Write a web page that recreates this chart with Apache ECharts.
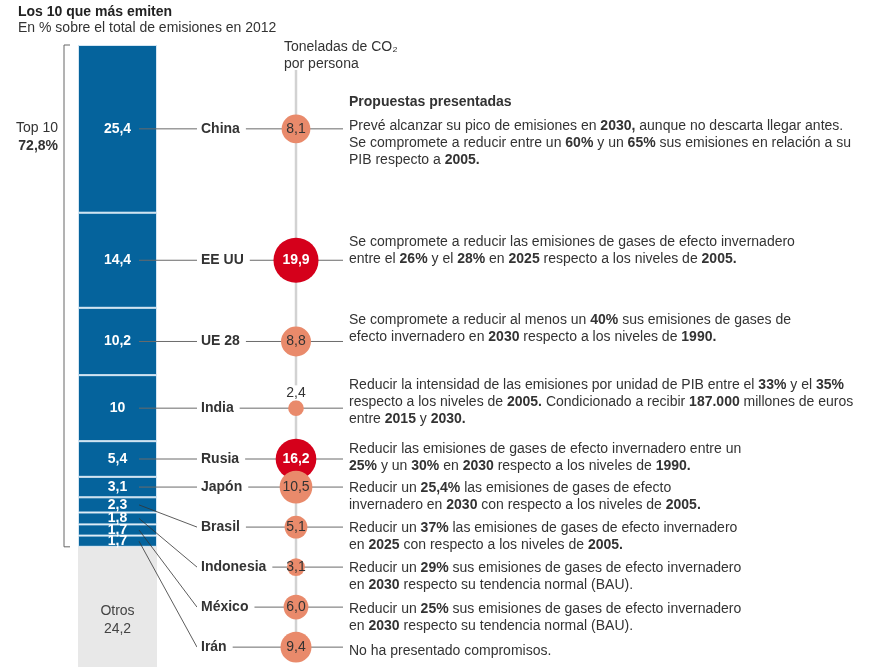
<!DOCTYPE html>
<html><head><meta charset="utf-8">
<script src="https://cdn.jsdelivr.net/npm/echarts@6/dist/echarts.min.js"></script>
<style>html,body{margin:0;padding:0;background:#fff}#c{width:879px;height:667px}</style>
</head><body><div id="c"></div>
<script>
// ---------- DATA ----------
const countries = ['China', 'EE UU', 'UE 28', 'India', 'Rusia', 'Japón', 'Brasil', 'Indonesia', 'México', 'Irán'];
const sharePct = [25.4, 14.4, 10.2, 10, 5.4, 3.1, 2.3, 1.8, 1.7, 1.7];
const otrosLabel = 'Otros';
const otrosPct = 24.2;
const top10Label = 'Top 10';
const top10Total = '72,8%';
const co2PerCapita = [8.1, 19.9, 8.8, 2.4, 16.2, 10.5, 5.1, 3.1, 6.0, 9.4];
const titleText = 'Los 10 que más emiten';
const subtitleText = 'En % sobre el total de emisiones en 2012';
const co2Title = ['Toneladas de CO₂', 'por persona'];
const proposalsTitle = 'Propuestas presentadas';
const proposals = [
  'Prevé alcanzar su pico de emisiones en {b|2030,} aunque no descarta llegar antes.\nSe compromete a reducir entre un {b|60%} y un {b|65%} sus emisiones en relación a su\nPIB respecto a {b|2005.}',
  'Se compromete a reducir las emisiones de gases de efecto invernadero\nentre el {b|26%} y el {b|28%} en {b|2025} respecto a los niveles de {b|2005.}',
  'Se compromete a reducir al menos un {b|40%} sus emisiones de gases de\nefecto invernadero en {b|2030} respecto a los niveles de {b|1990.}',
  'Reducir la intensidad de las emisiones por unidad de PIB entre el {b|33%} y el {b|35%}\nrespecto a los niveles de {b|2005.} Condicionado a recibir {b|187.000} millones de euros\nentre {b|2015} y {b|2030.}',
  'Reducir las emisiones de gases de efecto invernadero entre un\n{b|25%} y un {b|30%} en {b|2030} respecto a los niveles de {b|1990.}',
  'Reducir un {b|25,4%} las emisiones de gases de efecto\ninvernadero en {b|2030} con respecto a los niveles de {b|2005.}',
  'Reducir un {b|37%} las emisiones de gases de efecto invernadero\nen {b|2025} con respecto a los niveles de {b|2005.}',
  'Reducir un {b|29%} sus emisiones de gases de efecto invernadero\nen {b|2030} respecto su tendencia normal (BAU).',
  'Reducir un {b|25%} sus emisiones de gases de efecto invernadero\nen {b|2030} respecto su tendencia normal (BAU).',
  'No ha presentado compromisos.'
];

// ---------- LAYOUT / STYLE ----------
const FONT = "'Liberation Sans', Arial, sans-serif";
const FS = 14;
const BLUE = '#05639c', RED = '#d5001b', SALMON = '#e98a6b', OTROS_GRAY = '#e8e8e8', TXT = '#333';
const PLOT_TOP = 45, AXIS_MAX = 94.2;
const BAR_LEFT = 78, BAR_W = 79;
const CIRCLE_X = 296;
const NAME_X = 201, LEAD_START = 139, LEAD_END = 343, TEXT_X = 349;
const ROW_STEP = 6.06;       // spacing (axis units) of the rows below Japón
const textDy = [-3, -18, -21, -23, -10, 1, 1, 1, 2, 4]; // first text line vs row (px)

const fmt = v => String(v).replace('.', ',');
const fmt1 = v => v.toFixed(1).replace('.', ',');

const centers = []; let acc = 0;
sharePct.forEach(v => { centers.push(acc + v / 2); acc += v; });
const top10Sum = acc;
const rowPos = centers.map((c, i) => i <= 5 ? c : centers[5] + (i - 5) * ROW_STEP);

const chart = echarts.init(document.getElementById('c'), null, {renderer: 'canvas'});

const yAx = idx => ({type: 'value', gridIndex: idx, inverse: true, min: 0, max: AXIS_MAX, show: false});
const series = sharePct.map((v, i) => ({
  type: 'bar', name: countries[i], stack: 's', xAxisIndex: 0, yAxisIndex: 0, barWidth: '100%',
  data: [v], silent: true, z: 2,
  itemStyle: {color: BLUE, borderColor: '#d4e6f3', borderWidth: 1},
  label: {show: true, position: 'inside', formatter: fmt(v), color: '#fff', fontWeight: 'bold', fontSize: FS, fontFamily: FONT}
}));
series.push({
  type: 'bar', name: otrosLabel, stack: 's', xAxisIndex: 0, yAxisIndex: 0, barWidth: '100%',
  data: [otrosPct], silent: true, z: 2, itemStyle: {color: OTROS_GRAY},
  label: {show: true, position: 'inside', formatter: otrosLabel + '\n' + fmt(otrosPct), color: '#444', fontSize: FS, lineHeight: 18, fontFamily: FONT, offset: [0, 13]}
});
series.push({
  type: 'scatter', xAxisIndex: 1, yAxisIndex: 1, silent: true, z: 5,
  data: co2PerCapita.map((v, i) => {
    const d = 10.1 * Math.sqrt(v), big = v > 15, inside = d >= 17;
    return {
      value: [0, rowPos[i]], symbolSize: d,
      itemStyle: {color: big ? RED : SALMON, opacity: 1},
      label: {show: true, position: inside ? 'inside' : 'top', distance: 0, formatter: fmt1(v),
        color: big ? '#fff' : TXT, fontWeight: big ? 'bold' : 'normal', fontSize: FS, fontFamily: FONT,
        backgroundColor: inside ? 'transparent' : '#fff', padding: inside ? 0 : [1, 1, 0, 1]}
    };
  })
});

chart.setOption({
  animation: false,
  backgroundColor: '#fff',
  grid: [
    {left: BAR_LEFT, width: BAR_W, top: PLOT_TOP, bottom: 0},
    {left: CIRCLE_X - 20, width: 40, top: PLOT_TOP, bottom: 0}
  ],
  xAxis: [
    {type: 'category', gridIndex: 0, data: ['share'], show: false},
    {type: 'category', gridIndex: 1, data: ['co2'], show: false}
  ],
  yAxis: [yAx(0), yAx(1)],
  series
});

// ---------- annotations ----------
const yBar = v => chart.convertToPixel({yAxisIndex: 0}, v);
const rowY = rowPos.map(p => chart.convertToPixel({gridIndex: 1}, [0, p])[1]);
const cx = chart.convertToPixel({gridIndex: 1}, [0, 0])[0];
const g = [];
const txt = (x, y, text, opt) => g.push({type: 'text', z: 10, style: Object.assign({x, y, text, font: FS + 'px ' + FONT, fill: TXT, verticalAlign: 'middle'}, opt || {})});

txt(18, 12, titleText, {font: 'bold ' + FS + 'px ' + FONT, fill: '#222'});
txt(18, 28, subtitleText);
txt(284, 47, co2Title[0]);
txt(284, 64, co2Title[1]);
txt(TEXT_X, 102, proposalsTitle, {font: 'bold ' + FS + 'px ' + FONT});

// bracket for top 10
const yT = yBar(0), yB = yBar(top10Sum);
g.push({type: 'polyline', z: 1, shape: {points: [[BAR_LEFT - 8, yT], [BAR_LEFT - 14, yT], [BAR_LEFT - 14, yB], [BAR_LEFT - 8, yB]]}, style: {stroke: '#666', lineWidth: 1, fill: null}});
txt(58, 128, top10Label, {align: 'right'});
txt(58, 146, top10Total, {align: 'right', font: 'bold ' + FS + 'px ' + FONT});

// vertical guide line for the circles
g.push({type: 'line', z: 0, shape: {x1: cx, y1: 70, x2: cx, y2: rowY[rowY.length - 1]}, style: {stroke: '#d2d2d2', lineWidth: 2.5}});

countries.forEach((name, i) => {
  const y = rowY[i];
  const ySeg = yBar(centers[i]);
  if (i <= 5) {
    g.push({type: 'line', z: 3, shape: {x1: LEAD_START, y1: ySeg, x2: LEAD_END, y2: y}, style: {stroke: '#6a6a6a', lineWidth: 1}});
  } else {
    g.push({type: 'line', z: 3, shape: {x1: LEAD_START, y1: ySeg, x2: NAME_X - 4, y2: y}, style: {stroke: '#333', lineWidth: 0.8}});
    g.push({type: 'line', z: 3, shape: {x1: NAME_X - 4, y1: y, x2: LEAD_END, y2: y}, style: {stroke: '#6a6a6a', lineWidth: 1}});
  }
  txt(NAME_X - 4, y, name, {font: 'bold ' + FS + 'px ' + FONT, backgroundColor: '#fff', padding: [2, 6, 2, 4]});
  g.push({type: 'text', z: 10, style: {
    x: TEXT_X, y: y + textDy[i] - 8.5, text: proposals[i], font: FS + 'px ' + FONT, fill: TXT,
    verticalAlign: 'top', lineHeight: 17,
    rich: {b: {fontWeight: 'bold', fontSize: FS, fontFamily: FONT, fill: TXT, lineHeight: 17}}
  }});
});

chart.setOption({graphic: {elements: g}});
</script>
</body></html>
